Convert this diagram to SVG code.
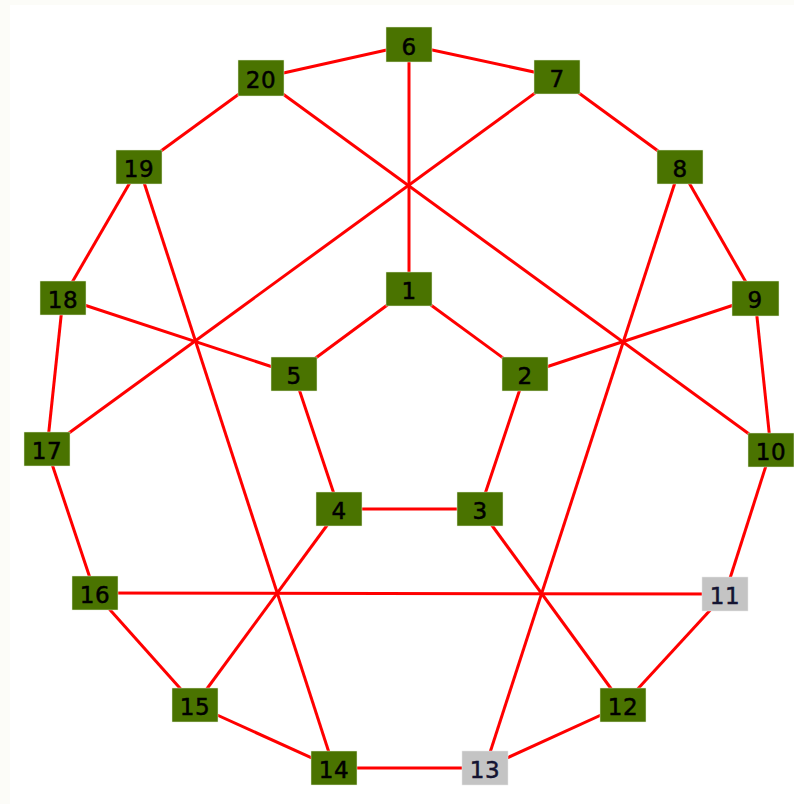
<svg xmlns="http://www.w3.org/2000/svg" width="794" height="804" viewBox="0 0 794 804">
<style>
.e{stroke:#ff0000;stroke-width:3;fill:none}
.n rect{fill:#4a7300;stroke:#e8f0dc;stroke-width:0.5}
.g rect{fill:#c4c4c4;stroke:#e8e8e8;stroke-width:0.5}
text{font-family:"DejaVu Sans",Verdana,sans-serif;font-size:23px;text-anchor:middle;fill:#000;stroke:#000;stroke-width:0.5;letter-spacing:0.5px}
.g text{fill:#141432;stroke:#141432}
</style>
<rect x="0" y="0" width="794" height="804" fill="#fcfcf8"/>
<rect x="10" y="5" width="784" height="799" fill="#ffffff"/>
<g id="edges">
<line class="e" x1="409" y1="289" x2="409" y2="45"/>
<line class="e" x1="409" y1="289" x2="525" y2="374"/>
<line class="e" x1="409" y1="289" x2="294" y2="374"/>
<line class="e" x1="525" y1="374" x2="480" y2="509"/>
<line class="e" x1="525" y1="374" x2="755" y2="298"/>
<line class="e" x1="480" y1="509" x2="339" y2="509"/>
<line class="e" x1="480" y1="509" x2="623" y2="705"/>
<line class="e" x1="339" y1="509" x2="294" y2="374"/>
<line class="e" x1="339" y1="509" x2="195" y2="705"/>
<line class="e" x1="294" y1="374" x2="63" y2="298"/>
<line class="e" x1="409" y1="45" x2="557" y2="77"/>
<line class="e" x1="409" y1="45" x2="261" y2="78"/>
<line class="e" x1="557" y1="77" x2="680" y2="167"/>
<line class="e" x1="557" y1="77" x2="47" y2="449"/>
<line class="e" x1="680" y1="167" x2="755" y2="298"/>
<line class="e" x1="680" y1="167" x2="485" y2="768"/>
<line class="e" x1="755" y1="298" x2="771" y2="450"/>
<line class="e" x1="771" y1="450" x2="725" y2="594"/>
<line class="e" x1="771" y1="450" x2="261" y2="78"/>
<line class="e" x1="725" y1="594" x2="623" y2="705"/>
<line class="e" x1="725" y1="594" x2="95" y2="593"/>
<line class="e" x1="623" y1="705" x2="485" y2="768"/>
<line class="e" x1="485" y1="768" x2="334" y2="768"/>
<line class="e" x1="334" y1="768" x2="195" y2="705"/>
<line class="e" x1="334" y1="768" x2="139" y2="167"/>
<line class="e" x1="195" y1="705" x2="95" y2="593"/>
<line class="e" x1="95" y1="593" x2="47" y2="449"/>
<line class="e" x1="47" y1="449" x2="63" y2="298"/>
<line class="e" x1="63" y1="298" x2="139" y2="167"/>
<line class="e" x1="139" y1="167" x2="261" y2="78"/>
</g>
<g id="n1" class="n"><rect x="386" y="272" width="46" height="34"/><text x="409" y="299">1</text></g>
<g id="n2" class="n"><rect x="502" y="357" width="46" height="34"/><text x="525" y="384">2</text></g>
<g id="n3" class="n"><rect x="457" y="492" width="46" height="34"/><text x="480" y="519">3</text></g>
<g id="n4" class="n"><rect x="316" y="492" width="46" height="34"/><text x="339" y="519">4</text></g>
<g id="n5" class="n"><rect x="271" y="357" width="46" height="34"/><text x="294" y="384">5</text></g>
<g id="n6" class="n"><rect x="386" y="27" width="46" height="35"/><text x="409" y="55">6</text></g>
<g id="n7" class="n"><rect x="534" y="60" width="46" height="34"/><text x="557" y="87">7</text></g>
<g id="n8" class="n"><rect x="657" y="150" width="46" height="34"/><text x="680" y="177">8</text></g>
<g id="n9" class="n"><rect x="732" y="281" width="47" height="35"/><text x="755" y="308">9</text></g>
<g id="n10" class="n"><rect x="748" y="433" width="46" height="34"/><text x="771" y="460">10</text></g>
<g id="n11" class="g"><rect x="702" y="577" width="46" height="34"/><text x="725" y="604">11</text></g>
<g id="n12" class="n"><rect x="600" y="688" width="46" height="34"/><text x="623" y="715">12</text></g>
<g id="n13" class="g"><rect x="462" y="751" width="46" height="34"/><text x="485" y="778">13</text></g>
<g id="n14" class="n"><rect x="311" y="751" width="46" height="34"/><text x="334" y="778">14</text></g>
<g id="n15" class="n"><rect x="172" y="688" width="46" height="34"/><text x="195" y="715">15</text></g>
<g id="n16" class="n"><rect x="72" y="576" width="46" height="34"/><text x="95" y="603">16</text></g>
<g id="n17" class="n"><rect x="24" y="432" width="46" height="34"/><text x="47" y="459">17</text></g>
<g id="n18" class="n"><rect x="40" y="281" width="46" height="34"/><text x="63" y="308">18</text></g>
<g id="n19" class="n"><rect x="116" y="150" width="46" height="34"/><text x="139" y="177">19</text></g>
<g id="n20" class="n"><rect x="238" y="60" width="46" height="36"/><text x="261" y="88">20</text></g>
</svg>
